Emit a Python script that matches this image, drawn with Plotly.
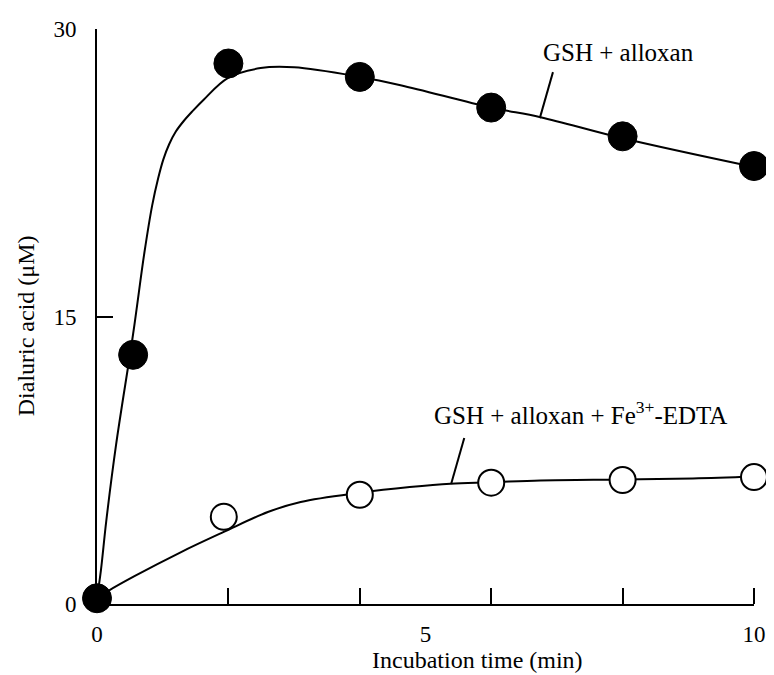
import plotly.graph_objects as go

# ---- data ----
gsh_x = [0, 0.55, 2, 4, 6, 8, 10]
gsh_y = [0.3, 13.0, 28.2, 27.5, 25.9, 24.4, 22.85]

fe_x = [0, 1.93, 4, 6, 8, 10]
fe_y = [0.3, 4.55, 5.7, 6.33, 6.47, 6.62]

# fitted curves
gsh_curve_x = [0, 0.06, 0.14, 0.29, 0.55, 0.72, 0.84, 0.93, 1.01, 1.1, 1.2, 1.32, 1.45, 1.62, 1.99, 2.49, 3.0, 4.0, 4.62, 6.0, 6.75, 8.0, 10.0]
gsh_curve_y = [0.3, 1.77, 4.3, 8.3, 14.1, 18.3, 20.8, 22.2, 23.2, 24.0, 24.65, 25.2, 25.7, 26.3, 27.44, 27.96, 28.0, 27.5, 27.07, 25.9, 25.4, 24.3, 22.8]

fe_curve_x = [0, 0.18, 0.57, 1.28, 1.93, 2.6, 3.1, 4.0, 4.76, 5.38, 6.0, 6.75, 8.0, 9.07, 10.0]
fe_curve_y = [0.3, 0.7, 1.45, 2.71, 3.76, 4.8, 5.32, 5.8, 6.1, 6.28, 6.35, 6.45, 6.5, 6.55, 6.65]

x_major_ticks = [0, 5, 10]
x_minor_ticks = [0, 2, 4, 6, 8, 10]
y_ticks = [0, 15, 30]

label_gsh = "GSH + alloxan"
label_fe = "GSH + alloxan + Fe<sup>3+</sup>-EDTA"
x_title = "Incubation time (min)"
y_title = "Dialuric acid (\u03bcM)"

FONT = "Liberation Serif, Times New Roman, serif"

fig = go.Figure()

fig.add_trace(go.Scatter(x=gsh_curve_x, y=gsh_curve_y, mode="lines",
                         line=dict(color="black", width=2, shape="spline", smoothing=1.0),
                         cliponaxis=False, showlegend=False, hoverinfo="skip"))
fig.add_trace(go.Scatter(x=fe_curve_x, y=fe_curve_y, mode="lines",
                         line=dict(color="black", width=2, shape="spline", smoothing=1.0),
                         cliponaxis=False, showlegend=False, hoverinfo="skip"))
fig.add_trace(go.Scatter(x=fe_x, y=fe_y, mode="markers",
                         marker=dict(symbol="circle", size=26, color="white",
                                     line=dict(color="black", width=2)),
                         cliponaxis=False, showlegend=False))
fig.add_trace(go.Scatter(x=gsh_x, y=gsh_y, mode="markers",
                         marker=dict(symbol="circle", size=29, color="black",
                                     line=dict(color="black", width=1)),
                         cliponaxis=False, showlegend=False))

# leader lines for labels
fig.add_shape(type="line", x0=6.94, y0=27.75, x1=6.74, y1=25.35, xref="x", yref="y",
              line=dict(color="black", width=2))
fig.add_shape(type="line", x0=5.59, y0=8.66, x1=5.39, y1=6.26, xref="x", yref="y",
              line=dict(color="black", width=2))

fig.add_annotation(x=7.93, y=28.8, xref="x", yref="y", text=label_gsh, showarrow=False,
                   font=dict(family=FONT, size=25, color="black"), xanchor="center", yanchor="middle")
fig.add_annotation(x=7.36, y=9.96, xref="x", yref="y", text=label_fe, showarrow=False,
                   font=dict(family=FONT, size=25, color="black"), xanchor="center", yanchor="middle")

# axis titles
fig.add_annotation(x=0.5, y=0, xref="paper", yref="paper", text=x_title, showarrow=False,
                   xshift=52, yshift=-56, xanchor="center", yanchor="middle",
                   font=dict(family=FONT, size=24, color="black"))
fig.add_annotation(x=0, y=0.483, xref="paper", yref="paper", text=y_title, showarrow=False,
                   xshift=-71, textangle=-90, xanchor="center", yanchor="middle",
                   font=dict(family=FONT, size=24, color="black"))

fig.update_xaxes(range=[0, 10], tickvals=x_major_ticks, ticktext=[str(v) for v in x_major_ticks],
                 ticks="", showline=True, linecolor="black", linewidth=2,
                 showgrid=False, zeroline=False, automargin=False,
                 tickfont=dict(family=FONT, size=23, color="black"),
                 ticklabelstandoff=8,
                 minor=dict(tickvals=x_minor_ticks, ticks="inside", ticklen=16,
                            tickwidth=2, tickcolor="black", showgrid=False))
fig.update_yaxes(range=[0, 30], tickvals=y_ticks, ticktext=[str(v) for v in y_ticks],
                 ticks="inside", ticklen=16, tickwidth=2, tickcolor="black",
                 showline=True, linecolor="black", linewidth=2,
                 showgrid=False, zeroline=False, automargin=False,
                 tickfont=dict(family=FONT, size=23, color="black"),
                 ticklabelstandoff=14)

# the page adds an 8px body margin; size the figure so it fills the 774x675 window
fig.update_layout(width=766, height=667,
                  margin=dict(l=89, r=20, t=21, b=71, autoexpand=False),
                  plot_bgcolor="white", paper_bgcolor="white",
                  showlegend=False)

fig.write_html("out.html")
